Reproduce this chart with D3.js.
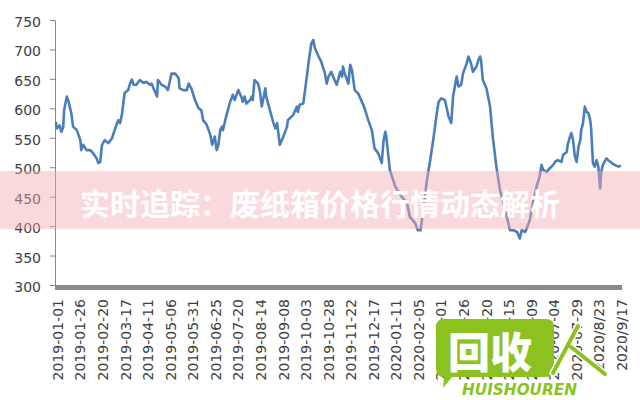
<!DOCTYPE html>
<html><head><meta charset="utf-8">
<script src="https://cdn.jsdelivr.net/npm/d3@7"></script>
<style>body{margin:0;background:#fff;overflow:hidden}</style>
</head><body>
<svg id="chart" width="640" height="400"></svg>
<script>
// days since 2019-01-01
const dayOffsets = [0,1,4,6,8,9,12,14,17,19,23,27,28,30,34,38,41,45,47,49,51,54,58,62,65,67,69,71,73,76,80,82,84,86,89,93,97,100,104,106,108,112,113,117,121,124,128,132,136,137,141,145,147,150,154,158,161,163,167,171,173,176,178,180,182,184,185,189,193,196,198,202,206,207,209,211,215,217,218,220,224,226,228,232,233,237,241,243,245,246,248,252,256,257,263,267,268,270,274,276,280,283,285,287,291,294,298,300,302,305,307,311,315,317,318,320,324,326,328,331,335,339,342,346,350,353,357,361,363,365,366,370,376,383,389,392,398,401,404,407,411,414,418,420,422,424,427,431,435,438,440,444,446,449,451,455,457,460,462,466,468,470,471,473,477,481,484,488,492,497,503,507,511,514,516,520,525,529,533,536,538,540,544,547,551,553,556,560,562,566,567,569,571,573,575,577,579,581,582,584,586,588,590,592,593,595,597,599,601,603,604,606,610,612,616,619,623,625];
const prices = [575,566,571,560,568,597,620,611,591,569,563,546,529,538,529,529,524,515,507,509,538,546,541,549,563,572,580,575,589,626,631,642,649,640,640,648,643,645,640,642,634,620,648,640,637,631,659,659,651,634,631,631,642,634,614,600,597,580,572,555,538,552,529,538,563,569,563,589,611,623,614,631,617,611,620,608,614,620,614,648,642,628,603,634,620,597,575,566,575,563,538,552,569,580,589,603,594,606,608,631,679,710,716,702,688,679,659,642,654,662,654,640,662,654,671,659,642,674,665,631,625,611,600,580,563,532,524,507,546,560,552,495,467,450,439,416,405,393,393,427,478,505,546,569,592,611,617,614,586,575,620,654,637,640,659,676,688,676,662,671,682,688,682,648,634,603,552,501,461,433,393,393,390,379,393,390,410,444,470,484,504,495,492,498,504,509,512,509,521,526,538,549,558,546,518,509,535,546,563,575,603,594,592,580,566,507,501,512,501,464,490,504,515,512,507,504,501,502];
const tickDays = [0,25,50,75,100,125,150,175,200,225,250,275,300,325,350,375,400,425,450,475,500,525,550,575,600,625];
const tickLabels = ["2019-01-01","2019-01-26","2019-02-20","2019-03-17","2019-04-11","2019-05-06","2019-05-31","2019-06-25","2019-07-20","2019-08-14","2019-09-08","2019-10-03","2019-10-28","2019-11-22","2019-12-17","2020-01-11","2020-02-05","2020-03-01","2020-03-26","2020-04-20","2020-05-15","2020-06-09","2020-07-04","2020-07-29","2020/8/23","2020/9/17"];
const yTicks = [300,350,400,450,500,550,600,650,700,750];
const titleText = "实时追踪：废纸箱价格行情动态解析";
const logoText = "回收";
const logoSub = "HUISHOUREN";

const svg = d3.select("#chart");
const x = d3.scaleLinear().domain([0, 625]).range([56, 620]);
const y = d3.scaleLinear().domain([300, 750]).range([285, 20]);
const axisFont = "'DejaVu Sans', Verdana, sans-serif";

// y axis
const gy = svg.append("g").attr("transform", "translate(55,0)")
  .call(d3.axisLeft(y).tickValues(yTicks).tickSize(5).tickSizeOuter(0).tickPadding(9));
gy.select(".domain").attr("stroke", "#868686");
gy.selectAll(".tick line").attr("stroke", "#868686");
gy.selectAll(".tick text").attr("font-family", axisFont).attr("font-size", 14)
  .attr("fill", "#404040").attr("dy", "0.46em");

// x axis
const gx = svg.append("g").attr("transform", "translate(0,285)")
  .call(d3.axisBottom(x).tickValues(tickDays).tickFormat((d, i) => tickLabels[i]).tickSize(0).tickSizeOuter(0));
gx.select(".domain").remove();
gx.selectAll(".tick text").attr("font-family", axisFont).attr("font-size", 14)
  .attr("fill", "#404040").attr("transform", "rotate(-90)").attr("text-anchor", "end")
  .attr("x", -14).attr("y", 1.5).attr("dy", "0.35em");
svg.append("rect").attr("x", x.range()[0] - 1).attr("y", y(300))
  .attr("width", x.range()[1] - x.range()[0] + 3).attr("height", 5).attr("fill", "#8a8a8a");

// line
const line = d3.line().x((d, i) => x(dayOffsets[i])).y(d => y(d)).curve(d3.curveLinear);
svg.append("path").datum(prices).attr("d", line).attr("fill", "none")
  .attr("stroke", "#4a7ebb").attr("stroke-width", 2.6).attr("stroke-linejoin", "round").attr("stroke-linecap", "round");

// title banner
svg.append("rect").attr("x", 0).attr("y", 171).attr("width", 640).attr("height", 58)
  .attr("fill", "rgb(245,170,180)").attr("fill-opacity", 0.45);
svg.append("text").attr("x", 320).attr("y", 202).attr("text-anchor", "middle")
  .attr("dominant-baseline", "central").attr("font-family", "'Noto Sans CJK SC', sans-serif")
  .attr("font-weight", "bold").attr("font-size", 30).attr("fill", "#fff").text(titleText);

// watermark logo
const wm = svg.append("g");
const green = "#8cc21f";
wm.append("path").attr("d", "M444,319 H546 Q554,319 554,327 V369 Q554,377 546,377 H452 L443,388 L444,377 Q436,377 436,369 V327 Q436,319 444,319 Z")
  .attr("fill", green);
wm.append("text").attr("x", 490).attr("y", 349).attr("text-anchor", "middle").attr("dominant-baseline", "central")
  .attr("font-family", "'Noto Sans CJK SC', sans-serif").attr("font-weight", "900").attr("font-size", 42)
  .attr("fill", "#fff").text(logoText);
wm.append("path").attr("d", "M553,373 L578,326 M571,347 L605,374").attr("stroke", "#fff").attr("stroke-width", 7)
  .attr("fill", "none").attr("stroke-linecap", "round");
wm.append("path").attr("d", "M553,373 L578,326 M571,347 L605,374").attr("stroke", green).attr("stroke-width", 4)
  .attr("fill", "none").attr("stroke-linecap", "round");
wm.append("text").attr("x", 462).attr("y", 395).attr("font-family", axisFont).attr("font-weight", "bold")
  .attr("font-style", "italic").attr("font-size", 15).attr("fill", green)
  .attr("textLength", 115).attr("lengthAdjust", "spacingAndGlyphs").text(logoSub);
</script>
</body></html>
